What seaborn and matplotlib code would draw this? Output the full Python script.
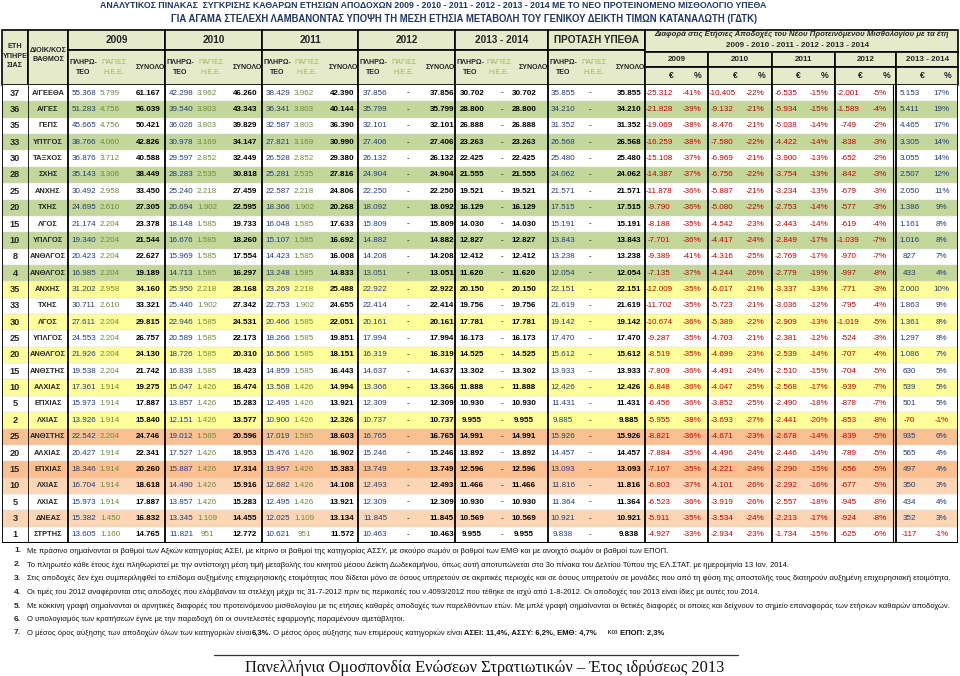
import pandas as pd
import seaborn as sns
import matplotlib.pyplot as plt
from matplotlib.colors import ListedColormap
from matplotlib.patches import Rectangle
from matplotlib import font_manager

years_service = [37, 36, 35, 33, 30, 28, 25, 20, 15, 10, 8, 4,
                 35, 33, 30, 25, 20, 15, 10, 5, 2,
                 25, 20, 15, 10, 5, 3, 1]
ranks = ['Α/ΓΕΕΘΑ', 'Α/ΓΕΣ', 'ΓΕΠΣ', 'ΥΠΤΓΟΣ', 'ΤΑΞΧΟΣ', 'ΣΧΗΣ', 'ΑΝΧΗΣ', 'ΤΧΗΣ',
         'ΛΓΟΣ', 'ΥΠΛΓΟΣ', 'ΑΝΘΛΓΟΣ', 'ΑΝΘΛΓΟΣ',
         'ΑΝΧΗΣ', 'ΤΧΗΣ', 'ΛΓΟΣ', 'ΥΠΛΓΟΣ', 'ΑΝΘΛΓΟΣ', 'ΑΝΘΣΤΗΣ', 'ΑΛΧΙΑΣ', 'ΕΠΧΙΑΣ', 'ΛΧΙΑΣ',
         'ΑΝΘΣΤΗΣ', 'ΑΛΧΙΑΣ', 'ΕΠΧΙΑΣ', 'ΛΧΙΑΣ', 'ΛΧΙΑΣ', 'ΔΝΕΑΣ', 'ΣΤΡΤΗΣ']
# 0 plain, 1 ΑΣΕΙ, 2 ΑΣΣΥ, 3 ΕΜΘ, 4 ΕΠΟΠ
row_shade = [0, 1, 0, 1, 0, 1, 0, 1, 0, 1, 0, 1,
             2, 0, 2, 0, 2, 0, 2, 0, 2,
             3, 0, 3, 4, 0, 4, 0]

pay_2009 = [55368, 51283, 45665, 38766, 36876, 35143, 30492, 24695, 21174, 19340, 20423, 16985,
            31202, 30711, 27611, 24553, 21926, 19538, 17361, 15973, 13926,
            22542, 20427, 18346, 16704, 15973, 15382, 13605]
fixed_2009 = [5799, 4756, 4756, 4060, 3712, 3306, 2958, 2610, 2204, 2204, 2204, 2204,
              2958, 2610, 2204, 2204, 2204, 2204, 1914, 1914, 1914,
              2204, 1914, 1914, 1914, 1914, 1450, 1160]
total_2009 = [61167, 56039, 50421, 42826, 40588, 38449, 33450, 27305, 23378, 21544, 22627, 19189,
              34160, 33321, 29815, 26757, 24130, 21742, 19275, 17887, 15840,
              24746, 22341, 20260, 18618, 17887, 16832, 14765]
pay_2010 = [42298, 39540, 36026, 30978, 29597, 28283, 25240, 20694, 18148, 16676, 15969, 14713,
            25950, 25440, 22946, 20589, 18726, 16839, 15047, 13857, 12151,
            19012, 17527, 15887, 14490, 13857, 13345, 11821]
fixed_2010 = [3962, 3803, 3803, 3169, 2852, 2535, 2218, 1902, 1585, 1585, 1585, 1585,
              2218, 1902, 1585, 1585, 1585, 1585, 1426, 1426, 1426,
              1585, 1426, 1426, 1426, 1426, 1109, 951]
total_2010 = [46260, 43343, 39829, 34147, 32449, 30818, 27459, 22595, 19733, 18260, 17554, 16297,
              28168, 27342, 24531, 22173, 20310, 18423, 16474, 15283, 13577,
              20596, 18953, 17314, 15916, 15283, 14455, 12772]
pay_2011 = [38429, 36341, 32587, 27821, 26528, 25281, 22587, 18366, 16048, 15107, 14423, 13248,
            23269, 22753, 20466, 18266, 16566, 14859, 13568, 12495, 10900,
            17019, 15476, 13957, 12682, 12495, 12025, 10621]
fixed_2011 = [3962, 3803, 3803, 3169, 2852, 2535, 2218, 1902, 1585, 1585, 1585, 1585,
              2218, 1902, 1585, 1585, 1585, 1585, 1426, 1426, 1426,
              1585, 1426, 1426, 1426, 1426, 1109, 951]
total_2011 = [42390, 40144, 36390, 30990, 29380, 27816, 24806, 20268, 17633, 16692, 16008, 14833,
              25488, 24655, 22051, 19851, 18151, 16443, 14994, 13921, 12326,
              18603, 16902, 15383, 14108, 13921, 13134, 11572]
pay_2012 = [37856, 35799, 32101, 27406, 26132, 24904, 22250, 18092, 15809, 14882, 14208, 13051,
            22922, 22414, 20161, 17994, 16319, 14637, 13366, 12309, 10737,
            16765, 15246, 13749, 12493, 12309, 11845, 10463]
pay_2013_14 = [30702, 28800, 26888, 23263, 22425, 21555, 19521, 16129, 14030, 12827, 12412, 11620,
               20150, 19756, 17781, 16173, 14525, 13302, 11888, 10930, 9955,
               14991, 13892, 12596, 11466, 10930, 10569, 9955]
pay_new = [35855, 34210, 31352, 26568, 25480, 24062, 21571, 17515, 15191, 13843, 13238, 12054,
           22151, 21619, 19142, 17470, 15612, 13933, 12426, 11431, 9885,
           15926, 14457, 13093, 11816, 11364, 10921, 9838]

diff_2009 = [-25312, -21828, -19069, -16259, -15108, -14387, -11878, -9790, -8188, -7701, -9389, -7135,
             -12009, -11702, -10674, -9287, -8519, -7809, -6848, -6456, -5955,
             -8821, -7884, -7167, -6803, -6523, -5911, -4927]
pct_2009 = [-41, -39, -38, -38, -37, -37, -36, -36, -35, -36, -41, -37,
            -35, -35, -36, -35, -35, -36, -36, -36, -38,
            -36, -35, -35, -37, -36, -35, -33]
diff_2010 = [-10405, -9132, -8476, -7580, -6969, -6756, -5887, -5080, -4542, -4417, -4316, -4244,
             -6017, -5723, -5389, -4703, -4699, -4491, -4047, -3852, -3693,
             -4671, -4496, -4221, -4101, -3919, -3534, -2934]
pct_2010 = [-22, -21, -21, -22, -21, -22, -21, -22, -23, -24, -25, -26,
            -21, -21, -22, -21, -23, -24, -25, -25, -27,
            -23, -24, -24, -26, -26, -24, -23]
diff_2011 = [-6535, -5934, -5038, -4422, -3900, -3754, -3234, -2753, -2443, -2849, -2769, -2779,
             -3337, -3036, -2909, -2381, -2539, -2510, -2568, -2490, -2441,
             -2678, -2446, -2290, -2292, -2557, -2213, -1734]
pct_2011 = [-15, -15, -14, -14, -13, -13, -13, -14, -14, -17, -17, -19,
            -13, -12, -13, -12, -14, -15, -17, -18, -20,
            -14, -14, -15, -16, -18, -17, -15]
diff_2012 = [-2001, -1589, -749, -838, -652, -842, -679, -577, -619, -1039, -970, -997,
             -771, -795, -1019, -524, -707, -704, -939, -878, -853,
             -839, -789, -656, -677, -945, -924, -625]
pct_2012 = [-5, -4, -2, -3, -2, -3, -3, -3, -4, -7, -7, -8,
            -3, -4, -5, -3, -4, -5, -7, -7, -8,
            -5, -5, -5, -5, -8, -8, -6]
diff_2013_14 = [5153, 5411, 4465, 3305, 3055, 2507, 2050, 1386, 1161, 1016, 827, 433,
                2000, 1863, 1361, 1297, 1086, 630, 539, 501, -70,
                935, 565, 497, 350, 434, 352, -117]
pct_2013_14 = [17, 19, 17, 14, 14, 12, 11, 9, 8, 8, 7, 4,
               10, 9, 8, 8, 7, 5, 5, 5, -1,
               6, 4, 4, 3, 4, 3, -1]

block_labels = ['2009', '2010', '2011', '2012', '2013 - 2014', 'ΠΡΟΤΑΣΗ ΥΠΕΘΑ']
diff_labels = ['2009', '2010', '2011', '2012', '2013 - 2014']

title_1 = ('ΑΝΑΛΥΤΙΚΟΣ ΠΙΝΑΚΑΣ  ΣΥΓΚΡΙΣΗΣ ΚΑΘΑΡΩΝ ΕΤΗΣΙΩΝ ΑΠΟΔΟΧΩΝ 2009 - 2010 - 2011 - 2012 - 2013 - 2014 '
           'ΜΕ ΤΟ ΝΕΟ ΠΡΟΤΕΙΝΟΜΕΝΟ ΜΙΣΘΟΛΟΓΙΟ ΥΠΕΘΑ')
title_2 = 'ΓΙΑ ΑΓΑΜΑ ΣΤΕΛΕΧΗ ΛΑΜΒΑΝΟΝΤΑΣ ΥΠΟΨΗ ΤΗ ΜΕΣΗ ΕΤΗΣΙΑ ΜΕΤΑΒΟΛΗ ΤΟΥ ΓΕΝΙΚΟΥ ΔΕΙΚΤΗ ΤΙΜΩΝ ΚΑΤΑΝΑΛΩΤΗ (ΓΔΤΚ)'
notes = [
    'Με πράσινο σημαίνονται οι βαθμοί των Αξκών κατηγορίας ΑΣΕΙ, με κίτρινο οι βαθμοί της κατηγορίας ΑΣΣΥ, '
    'με σκούρο σωμόν οι βαθμοί των ΕΜΘ και με ανοιχτό σωμόν οι βαθμοί των ΕΠΟΠ.',
    'Το πληρωτέο κάθε έτους έχει πληθωριστεί με την αντίστοιχη μέση τιμή μεταβολής του κινητού μέσου Δείκτη '
    'Δωδεκαμήνου, όπως αυτή αποτυπώνεται στο 3ο πίνακα του Δελτίου Τύπου της ΕΛ.ΣΤΑΤ. με ημερομηνία 13 Ιαν. 2014.',
    'Στις αποδοχές δεν έχει συμπεριληφθεί το επίδομα αυξημένης επιχειρησιακής ετοιμότητας που δίδεται μόνο σε όσους '
    'υπηρετούν σε ακριτικές περιοχές και σε όσους υπηρετούν σε μονάδες που από τη φύση της αποστολής τους διατηρούν '
    'αυξημένη επιχειρησιακή ετοιμότητα.',
    'Οι τιμές του 2012 αναφέρονται στις αποδοχές που ελάμβαναν τα στελέχη μέχρι τις 31-7-2012 πριν τις περικοπές '
    'του ν.4093/2012 που τέθηκε σε ισχύ από 1-8-2012. Οι αποδοχές του 2013 είναι ίδιες με αυτές του 2014.',
    'Με κόκκινη γραφή σημαίνονται οι αρνητικές διαφορές του προτεινόμενου μισθολογίου με τις ετήσιες καθαρές αποδοχές '
    'των παρελθόντων ετών. Με μπλέ γραφή σημαίνονται οι θετικές διαφορές οι οποίες και δείχνουν το σημείο '
    'επαναφοράς των ετήσιων καθαρών αποδοχών.',
    'Ο υπολογισμός των κρατήσεων έγινε με την παραδοχή ότι οι συντελεστές εφαρμογής παραμένουν αμετάβλητοι.',
]
note_7 = [('Ο μέσος όρος αύξησης των αποδοχών όλων των κατηγοριών είναι', 'normal'),
          ('6,3%.', 'bold'),
          (' Ο μέσος όρος αύξησης των επιμέρους κατηγοριών είναι', 'normal'),
          (' ΑΣΕΙ: 11,4%, ΑΣΣΥ: 6,2%, ΕΜΘ: 4,7%', 'bold'),
          ('     και', 'normal'),
          (' ΕΠΟΠ: 2,3%', 'bold')]
signature = 'Πανελλήνια Ομοσπονδία Ενώσεων Στρατιωτικών – Έτος ιδρύσεως 2013'

# ---------------- style ----------------
sns.set_style('white')
plt.rcParams['font.family'] = ['Liberation Sans', 'DejaVu Sans']
installed = {f.name for f in font_manager.fontManager.ttflist}
NARROW = 'Liberation Sans Narrow' if 'Liberation Sans Narrow' in installed else 'Liberation Sans'
NUM_FS = 6.9 if NARROW == 'Liberation Sans Narrow' else 5.8
NF = [NARROW, 'DejaVu Sans']

HEAD = '#e5eacb'
NAVY = '#203c78'
OLIVE = '#6b8a38'
RED = '#c00000'
shade_colors = ['#ffffff', '#c4d79b', '#ffff99', '#fac090', '#fcd5b4']

fig = plt.figure(figsize=(9.6, 6.76), dpi=100)
ax = fig.add_axes([0, 0, 1, 1])
ax.set_xlim(0, 960)
ax.set_ylim(676, 0)
ax.axis('off')

# table geometry in pixels
X0, X1, Y0, Y1 = 2, 958, 85, 543
edges = [2, 28, 68, 165, 262, 358, 455, 548, 645, 708, 772, 835, 896, 958]
year_left = edges[2:8]
year_right = edges[3:9]
diff_left = edges[8:13]
diff_right = edges[9:14]

# ---------------- body: seaborn heatmap gives the row shading ----------------
axb = fig.add_axes([X0 / 960, 1 - Y1 / 676, (X1 - X0) / 960, (Y1 - Y0) / 676])
shade_df = pd.DataFrame({'shade': row_shade})
sns.heatmap(shade_df, cmap=ListedColormap(shade_colors), vmin=-0.5, vmax=4.5,
            cbar=False, xticklabels=False, yticklabels=False, ax=axb)
axb.set_xlim(0, 1)


def fx(px):
    return (px - X0) / (X1 - X0)


def fmt(v):
    return f'{v:,}'.replace(',', '.')


def sign_col(v):
    return RED if v < 0 else NAVY


nrows = len(row_shade)
for i in range(nrows):
    y = i + 0.5
    axb.text(fx(15), y, str(years_service[i]), ha='center', va='center', fontsize=6.6,
             fontweight='bold', family=NF)
    axb.text(fx(48), y, ranks[i], ha='center', va='center', fontsize=5.4,
             fontweight='bold', family=NF)

cols = []
for L, p, f, t in zip(year_left[:3], [pay_2009, pay_2010, pay_2011],
                      [fixed_2009, fixed_2010, fixed_2011], [total_2009, total_2010, total_2011]):
    cols += [(p, L + 16, 'pay'), (f, L + 42, 'fixed'), (t, L + 80, 'total')]
cols += [(pay_2012, year_left[3] + 17, 'pay'), (None, year_left[3] + 50, 'dash'),
         (pay_2012, year_left[3] + 84, 'total')]
cols += [(pay_2013_14, year_left[4] + 17, 'total'), (None, year_left[4] + 47, 'dash'),
         (pay_2013_14, year_left[4] + 69, 'total')]
cols += [(pay_new, year_left[5] + 15, 'pay'), (None, year_left[5] + 42, 'dash'),
         (pay_new, year_left[5] + 81, 'total')]
for L, R, d, pc in zip(diff_left, diff_right,
                       [diff_2009, diff_2010, diff_2011, diff_2012, diff_2013_14],
                       [pct_2009, pct_2010, pct_2011, pct_2012, pct_2013_14]):
    cols += [(d, L + 0.22 * (R - L), 'diff'), (pc, L + 0.74 * (R - L), 'pct')]

for vals, px, kind in cols:
    for i in range(nrows):
        kw = dict(ha='center', va='center', fontsize=NUM_FS, family=NF)
        if kind == 'dash':
            axb.text(fx(px), i + 0.5, '-', color='black', **kw)
        elif kind == 'pay':
            axb.text(fx(px), i + 0.5, fmt(vals[i]), color=NAVY, **kw)
        elif kind == 'fixed':
            axb.text(fx(px), i + 0.5, fmt(vals[i]), color=OLIVE, **kw)
        elif kind == 'total':
            axb.text(fx(px), i + 0.5, fmt(vals[i]), color='black', fontweight='bold', **kw)
        elif kind == 'diff':
            axb.text(fx(px), i + 0.5, fmt(vals[i]), color=sign_col(vals[i]), **kw)
        else:
            axb.text(fx(px), i + 0.5, f'{vals[i]}%', color=sign_col(vals[i]), **kw)

for i in range(1, nrows):
    axb.axhline(i, color='#d8d8d8', lw=0.35)
for e in edges:
    axb.axvline(fx(e), color='black', lw=0.6 if e == 28 else 1.3)
axb.axvline(fx(edges[12]) - 0.003, color='black', lw=0.8)
axb.axhline(nrows, color='black', lw=1.5)

# ---------------- header ----------------
def cell(x0, x1, y0, y1, lw=1.2):
    ax.add_patch(Rectangle((x0, y0), x1 - x0, y1 - y0, facecolor=HEAD,
                           edgecolor='black', linewidth=lw))


HY0, HY1, HY2 = 30, 50, 85
cell(edges[0], edges[1], HY0, HY2)
cell(edges[1], edges[2], HY0, HY2)
ax.text(15, 56, 'ΕΤΗ\nΥΠΗΡΕ\nΣΙΑΣ', ha='center', va='center', fontsize=5.2, fontweight='bold',
        linespacing=1.5, family=NF)
ax.text(48, 55, 'ΔΙΟΙΚ/ΚΟΣ\nΒΑΘΜΟΣ', ha='center', va='center', fontsize=5.2, fontweight='bold',
        linespacing=1.4, family=NF)

for L, R, lab in zip(year_left, year_right, block_labels):
    cell(L, R, HY0, HY1)
    cell(L, R, HY1, HY2)
    ax.text((L + R) / 2, 40, lab, ha='center', va='center', fontsize=7.2, fontweight='bold')
    ax.text(L + 15, 67.5, 'ΠΛΗΡΩ-\nΤΕΟ', ha='center', va='center', fontsize=5.1, fontweight='bold',
            linespacing=1.5, family=NF)
    ax.text(L + 0.47 * (R - L), 67.5, 'ΠΑΓΙΕΣ\nΗ.Ε.Ε.', ha='center', va='center', fontsize=5.1,
            color='#9bb55e', linespacing=1.5, family=NF)
    ax.text(R - 15, 67.5, 'ΣΥΝΟΛΟ', ha='center', va='center', fontsize=5.1, fontweight='bold',
            family=NF)

cell(edges[8], edges[13], HY0, 52)
diff_title = ax.text(801, 34.5, 'Διαφορά στις Ετήσιες Αποδοχές του Νέου Προτεινόμενου Μισθολογίου με τα έτη',
                     ha='center', va='center', fontsize=5.6, fontweight='bold', style='italic', family=NF)
ax.text(797, 45.5, '2009 - 2010 - 2011 - 2012 - 2013 - 2014', ha='center', va='center',
        fontsize=5.8, fontweight='bold', family=NF)
for L, R, lab in zip(diff_left, diff_right, diff_labels):
    cell(L, R, 52, 67)
    cell(L, R, 67, HY2)
    ax.text((L + R) / 2, 59.5, lab, ha='center', va='center', fontsize=5.8, fontweight='bold')
    ax.text(L + 0.42 * (R - L), 76, '€', ha='center', va='center', fontsize=6.2, fontweight='bold')
    ax.text(L + 0.84 * (R - L), 76, '%', ha='center', va='center', fontsize=6.2, fontweight='bold')

# ---------------- titles, notes, signature ----------------
fig.canvas.draw()
rend = fig.canvas.get_renderer()


def fit(t, width):
    w = t.get_window_extent(renderer=rend).width
    t.set_fontsize(t.get_fontsize() * width / w)


t1 = ax.text(433, 6, title_1, ha='center', va='center', fontsize=7, fontweight='bold', color='#1f3763',
             family=NF)
t2 = ax.text(464, 18.5, title_2, ha='center', va='center', fontsize=7, fontweight='bold', color='#1f3763',
             family=NF)
fit(t1, 667)
fit(t2, 588)
fit(diff_title, 292)

note_y = [551, 565, 578.5, 592, 606, 619.5, 633]
probe = ax.text(27, note_y[2], notes[2], ha='left', va='center', fontsize=5.5, color='#111111')
fit(probe, 930)
note_fs = probe.get_fontsize()
probe.remove()
for k, (y, txt) in enumerate(zip(note_y, notes + [None])):
    ax.text(14, y, f'{k + 1}.', ha='left', va='center', fontsize=note_fs + 0.5, fontweight='bold')
    if txt is not None:
        ax.text(27, y, txt, ha='left', va='center', fontsize=note_fs, color='#111111')
x = 27
for txt, w in note_7:
    t = ax.text(x, note_y[6], txt, ha='left', va='center', fontsize=note_fs, fontweight=w, color='#111111')
    x += t.get_window_extent(renderer=rend).width

ax.plot([214, 738], [655, 655], color='#333333', lw=0.9)
sig = ax.text(485, 667.5, signature, ha='center', va='center', fontsize=11,
              family=['Liberation Serif', 'DejaVu Serif'], color='#111111')
fit(sig, 480)

fig.savefig('out.png', dpi=100)
